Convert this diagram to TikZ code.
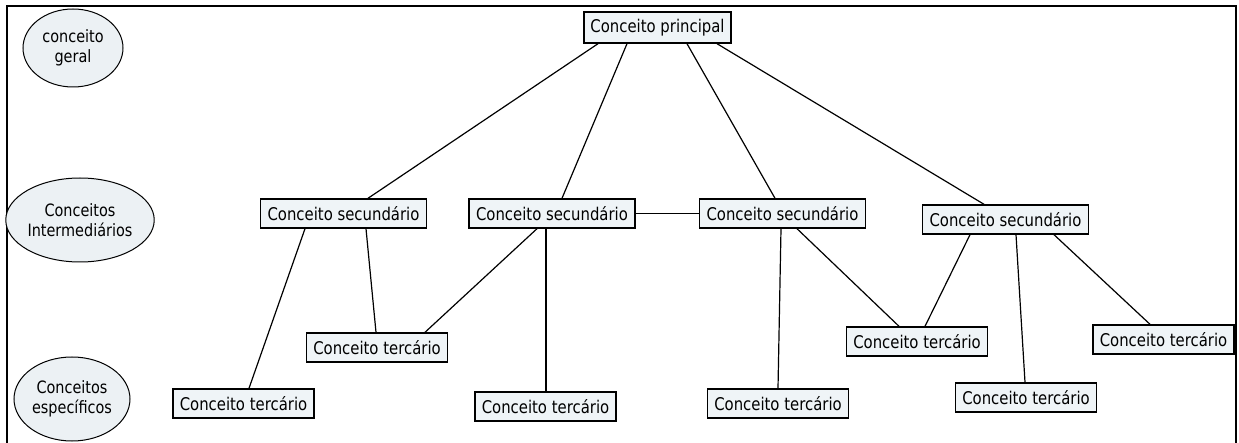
\documentclass[tikz,border=0pt]{standalone}
\usepackage{fontspec}
\setmainfont{DejaVu Sans}[FakeStretch=0.85]
\usetikzlibrary{shapes.geometric}
\definecolor{boxfill}{HTML}{EFF4F7}
\definecolor{ellfill}{HTML}{ECF1F4}
\begin{document}
\begin{tikzpicture}[x=1pt,y=-1pt,
  concept/.style={draw=black,line width=1.4pt,fill=boxfill,inner sep=0pt,
    minimum height=29pt,font=\fontsize{17.5}{19}\selectfont},
  secbox/.style={concept,minimum width=166pt},
  terbox/.style={concept,minimum width=141pt},
  levelell/.style={draw=black,line width=1pt,fill=ellfill,ellipse,inner sep=0pt,
    align=center,font=\fontsize{17}{20}\selectfont},
  link/.style={draw=black,line width=1.2pt}]
\useasboundingbox (0,0) rectangle (1239,443);
% frame
\draw[line width=1.6pt] (7,443) -- (7,6) -- (1236,6) -- (1236,443);
% level ellipses
\node[levelell,minimum width=100pt,minimum height=78pt] (L1) at (73,48) {conceito\\geral};
\node[levelell,minimum width=145pt,minimum height=84pt] (L2) at (80,220) {Conceitos\\Intermediários};
\node[levelell,minimum width=116pt,minimum height=84pt] (L3) at (72,399) {Conceitos\\específicos};
% concepts
\node[concept,minimum width=147pt,minimum height=31pt] (P) at (657.5,27.5) {Conceito principal};
\node[secbox] (S1) at (343.5,213.5) {Conceito secundário};
\node[secbox] (S2) at (552,213.5) {Conceito secundário};
\node[secbox] (S3) at (782.5,213.5) {Conceito secundário};
\node[secbox] (S4) at (1005.5,219.5) {Conceito secundário};
\node[terbox] (T1) at (243.5,403.5) {Conceito tercário};
\node[terbox] (T2) at (377,347.5) {Conceito tercário};
\node[terbox] (T3) at (545.5,406.5) {Conceito tercário};
\node[terbox] (T4) at (778,403.5) {Conceito tercário};
\node[terbox] (T5) at (917,341.5) {Conceito tercário};
\node[terbox] (T6) at (1026,397.5) {Conceito tercário};
\node[terbox] (T7) at (1163.5,339.5) {Conceito tercário};
% links
\draw[link] ([xshift=-59.5pt]P.south) -- ([xshift=24.5pt]S1.north);
\draw[link] ([xshift=-30.5pt]P.south) -- ([xshift=10pt]S2.north);
\draw[link] ([xshift=29.5pt]P.south) -- ([xshift=-7.5pt]S3.north);
\draw[link] ([xshift=59.5pt]P.south) -- ([xshift=-21.5pt]S4.north);
\draw[link] ([xshift=-38.5pt]S1.south) -- ([xshift=5.5pt]T1.north);
\draw[link] ([xshift=22.5pt]S1.south) -- ([xshift=-1pt]T2.north);
\draw[link] ([xshift=-15pt]S2.south) -- ([xshift=48pt]T2.north);
\draw[link] ([xshift=-6pt]S2.south) -- ([xshift=0.5pt]T3.north);
\draw[link] (S2.east) -- (S3.west);
\draw[link] ([xshift=-1.5pt]S3.south) -- (T4.north);
\draw[link] ([xshift=14.5pt]S3.south) -- ([xshift=-18pt]T5.north);
\draw[link] ([xshift=-35.5pt]S4.south) -- ([xshift=8pt]T5.north);
\draw[link] ([xshift=10.5pt]S4.south) -- ([xshift=-1pt]T6.north);
\draw[link] ([xshift=48.5pt]S4.south) -- ([xshift=-13.5pt]T7.north);
\end{tikzpicture}
\end{document}
